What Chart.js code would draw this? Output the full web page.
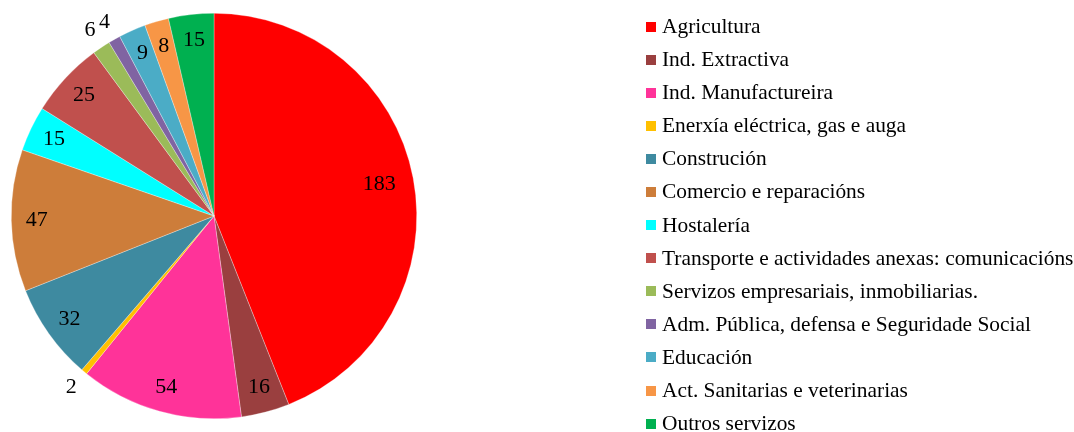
<!DOCTYPE html>
<html>
<head>
<meta charset="utf-8">
<script src="https://cdn.jsdelivr.net/npm/chart.js@4"></script>
<style>
    html, body { margin: 0; padding: 0; background: #fff; }
    #wrap { position: relative; width: 1074px; height: 432px; }
    #legend {
        position: absolute; left: 646px; top: 10px; margin: 0; padding: 0;
        list-style: none; font-family: "Liberation Serif", "Times New Roman", serif;
        font-size: 21.4px; color: #000;
    }
    #legend li { height: 33.1px; line-height: 33.1px; white-space: nowrap; display: flex; align-items: center; }
    #legend .box { width: 10px; height: 10px; margin-right: 6px; flex: none; }
</style>
</head>
<body>
<div id="wrap">
    <canvas id="pieChart" width="1074" height="432"></canvas>
    <ul id="legend"></ul>
</div>
<script>
const sectors = [
    'Agricultura',
    'Ind. Extractiva',
    'Ind. Manufactureira',
    'Enerxía eléctrica, gas e auga',
    'Construción',
    'Comercio e reparacións',
    'Hostalería',
    'Transporte e actividades anexas: comunicacións',
    'Servizos empresariais, inmobiliarias.',
    'Adm. Pública, defensa e Seguridade Social',
    'Educación',
    'Act. Sanitarias e veterinarias',
    'Outros servizos'
];
const counts = [183, 16, 54, 2, 32, 47, 15, 25, 6, 4, 9, 8, 15];
const sectorColors = [
    '#FF0000', '#9A3F3F', '#FF3399', '#FFC000', '#3E8AA0', '#CD7D3A', '#00FFFF',
    '#C0504D', '#9BBB59', '#8064A2', '#4BACC6', '#F79646', '#00B050'
];

// value labels inside the slices (small ones go outside)
const sliceLabels = {
    id: 'sliceLabels',
    afterDatasetsDraw(chart) {
        const ctx = chart.ctx;
        const meta = chart.getDatasetMeta(0);
        ctx.save();
        ctx.font = '22px "Liberation Serif", serif';
        ctx.fillStyle = '#000';
        ctx.textAlign = 'center';
        ctx.textBaseline = 'middle';
        meta.data.forEach((arc, i) => {
            const v = chart.data.datasets[0].data[i];
            const p = arc.getProps(['x', 'y', 'startAngle', 'endAngle', 'outerRadius'], true);
            const mid = (p.startAngle + p.endAngle) / 2;
            let f = v <= 6 ? 1.1 : 0.875;
            if (i === 0) f = 0.83;
            const r = p.outerRadius * f;
            ctx.fillText(String(v), p.x + Math.cos(mid) * r, p.y + Math.sin(mid) * r);
        });
        ctx.restore();
    }
};

// legend list built from the chart's own labels
const htmlLegend = {
    id: 'htmlLegend',
    afterUpdate(chart) {
        const ul = document.getElementById('legend');
        ul.innerHTML = '';
        const items = chart.options.plugins.legend.labels.generateLabels(chart);
        items.forEach(item => {
            const li = document.createElement('li');
            const box = document.createElement('span');
            box.className = 'box';
            box.style.background = item.fillStyle;
            const txt = document.createElement('span');
            txt.textContent = item.text;
            li.appendChild(box);
            li.appendChild(txt);
            ul.appendChild(li);
        });
    }
};

const ctx = document.getElementById('pieChart').getContext('2d');
const pieChart = new Chart(ctx, {
    type: 'pie',
    data: {
        labels: sectors,
        datasets: [{
            data: counts,
            backgroundColor: sectorColors,
            borderColor: 'rgba(255,255,255,0.6)',
            borderWidth: 0.5
        }]
    },
    options: {
        responsive: false,
        animation: false,
        layout: { padding: { left: 0, right: 646, top: 13, bottom: 13 } },
        plugins: {
            legend: { display: false },
            tooltip: { enabled: false }
        }
    },
    plugins: [sliceLabels, htmlLegend]
});
</script>
</body>
</html>
